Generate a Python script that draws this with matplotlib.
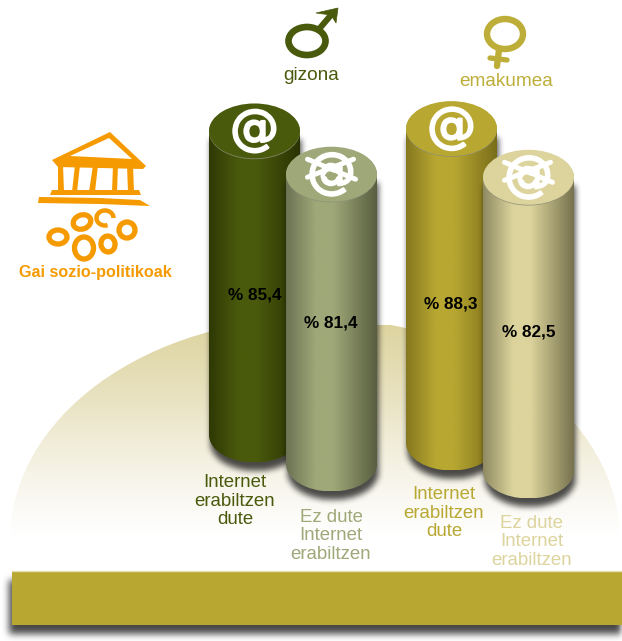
import numpy as np
from matplotlib import pyplot as plt
from matplotlib.colors import LinearSegmentedColormap
from matplotlib.patches import Arc, Ellipse, PathPatch, Polygon, Rectangle
from matplotlib.path import Path
from matplotlib.patheffects import withStroke

plt.rcParams['font.family'] = ['Liberation Sans', 'DejaVu Sans']

# values
percent = [85.4, 81.4, 88.3, 82.5]
percent_labels = ['% 85,4', '% 81,4', '% 88,3', '% 82,5']
use_label = 'Internet\nerabiltzen\ndute'
nouse_label = 'Ez dute\nInternet\nerabiltzen'
bar_labels = [use_label, nouse_label, use_label, nouse_label]
group_names = ['gizona', 'emakumea']
topic = 'Gai sozio-politikoak'

# layout in pixels
W, H = 622, 641
bar_x = [254.5, 331.5, 451.5, 528.5]
bar_base = [435, 464, 443, 471]
px_per_percent = 3.56
rx, ry = 45.5, 27.5
bar_top_colors = ['#4a5a0c', '#9fa878', '#b8a832', '#dcd49c']
bar_edge_colors = ['#2a3303', '#585e40', '#7a6d1a', '#77724e']
bar_left_colors = ['#2f3905', '#6c7254', '#85781f', '#8f8a62']
pct_pos = [(255, 295), (331, 323), (451, 304), (529, 332)]
label_pos = [(235, 500), (331, 535), (444, 512), (532, 541)]
ORANGE = '#f59a00'
OLIVE = '#4a5a0c'
GOLD = '#bdae3a'

fig = plt.figure(figsize=(W / 100, H / 100), dpi=100)
ax = fig.add_axes([0, 0, 1, 1])

gx, gy = np.meshgrid(np.arange(W) + 0.5, np.arange(H) + 0.5)
grid = np.column_stack([gx.ravel(), gy.ravel()])


def gradient(colors, extent, clip, vertical=False, zorder=1):
    cmap = LinearSegmentedColormap.from_list('g', colors)
    ramp = np.linspace(0, 1, 256)
    ramp = ramp.reshape(-1, 1) if vertical else ramp.reshape(1, -1)
    im = ax.imshow(ramp, cmap=cmap, extent=extent, aspect='auto', origin='upper',
                   interpolation='bilinear', zorder=zorder)
    im.set_clip_path(clip)


def blur(a, size):
    kernel = np.ones(size) / size
    for _ in range(3):
        a = np.apply_along_axis(lambda r: np.convolve(r, kernel, mode='same'), 0, a)
        a = np.apply_along_axis(lambda r: np.convolve(r, kernel, mode='same'), 1, a)
    return a


def soft_shadow(path, dx, dy, zorder, size=5, strength=0.6):
    moved = Path(path.vertices + [dx, dy], path.codes)
    mask = moved.contains_points(grid).reshape(H, W).astype(float)
    rgba = np.zeros((H, W, 4))
    rgba[..., 3] = blur(mask, size) * strength
    ax.imshow(rgba, extent=(0, W, H, 0), aspect='auto', origin='upper', zorder=zorder)


def cylinder_path(x, top, base):
    k = 0.5523
    verts = [(x - rx, top), (x - rx, base),
             (x - rx, base + k * ry), (x - k * rx, base + ry), (x, base + ry),
             (x + k * rx, base + ry), (x + rx, base + k * ry), (x + rx, base),
             (x + rx, top), (x - rx, top)]
    codes = [Path.MOVETO, Path.LINETO, Path.CURVE4, Path.CURVE4, Path.CURVE4,
             Path.CURVE4, Path.CURVE4, Path.CURVE4, Path.LINETO, Path.CLOSEPOLY]
    return Path(verts, codes)


# background hill
hill = Ellipse((315, 540), 610, 444, fc='none', ec='none', zorder=1)
ax.add_patch(hill)
gradient(['#ddd4a0', '#e8e2c0', '#f5f2e4', '#ffffff'], (0, W, 535, 325), hill, vertical=True, zorder=1)

# bottom band
band = Path([(12, 571), (12, 625), (640, 625), (640, 571), (12, 571)])
soft_shadow(band, -3, 9, 2, size=7, strength=0.72)
ax.add_patch(Rectangle((12, 571), 610, 54, fc='#b8a832', ec='none', zorder=3))
ax.plot([12, 622], [570.5, 570.5], color='#e6dfb0', lw=1, zorder=3)

# cylinders, height taken from the value
for i, val in enumerate(percent):
    x = bar_x[i]
    base = bar_base[i]
    top = base - val * px_per_percent
    z = 4 + i * 2
    body = cylinder_path(x, top, base)
    soft_shadow(body, 0, 7, z, size=6, strength=0.7)
    patch = PathPatch(body, fc='none', ec='none', zorder=z + 1)
    ax.add_patch(patch)
    mid = bar_top_colors[i]
    gradient([(0, bar_left_colors[i]), (0.33, mid), (0.52, mid), (1, bar_edge_colors[i])],
             (x - rx, x + rx, base + ry, top), patch, zorder=z + 1)
    ax.add_patch(Ellipse((x, top + 0.7), 2 * rx, 2 * ry, fc='#8f8f78', ec='none', zorder=z + 1))
    ax.add_patch(Ellipse((x, top), 2 * rx, 2 * ry, fc=mid, ec='none', zorder=z + 1))
    # @ sign on the lid
    ty = top - 1
    ax.text(x, ty, '@', color='white', fontsize=35, family='DejaVu Sans', ha='center', va='center',
            zorder=z + 1, path_effects=[withStroke(linewidth=1.6, foreground='white')])
    if i % 2 == 1:
        # crossed out version
        ax.plot([x - 24, x + 24], [ty - 14, ty + 6], color='white', lw=3.6,
                solid_capstyle='round', zorder=z + 1)
        ax.plot([x - 24, x + 22], [ty + 4, ty - 14], color='white', lw=3.6,
                solid_capstyle='round', zorder=z + 1)
        ax.add_patch(Ellipse((x, ty + 2), 13, 5, fc=mid, ec='none', zorder=z + 1))
    ax.text(pct_pos[i][0], pct_pos[i][1], percent_labels[i], fontsize=12.3, fontweight='bold',
            color='black', ha='center', va='center', zorder=20)
    ax.text(label_pos[i][0], label_pos[i][1] + 1, bar_labels[i], fontsize=13.4, color=mid,
            ha='center', va='center', linespacing=1.1, zorder=20)

# male sign
ax.add_patch(Ellipse((307, 41), 37, 28, angle=0, fc='none', ec=OLIVE, lw=4.8, zorder=5))
ax.plot([320, 331], [28, 15], color=OLIVE, lw=4.4, zorder=5)
ax.add_patch(Polygon([(316, 13), (338, 8), (336, 23), (331, 15)], fc=OLIVE, ec=OLIVE, lw=0.5, zorder=5))
ax.text(311, 75, group_names[0], fontsize=13.7, color=OLIVE, ha='center', va='center', zorder=20)

# female sign
ax.add_patch(Ellipse((505, 34), 36, 30, fc='none', ec=GOLD, lw=4.6, zorder=5))
ax.plot([499, 497], [50, 66], color=GOLD, lw=4.6, solid_capstyle='round', zorder=5)
ax.plot([490, 507], [58, 60], color=GOLD, lw=3.8, solid_capstyle='round', zorder=5)
ax.text(506, 82, group_names[1], fontsize=13.7, color=GOLD, ha='center', va='center', zorder=20)

# temple logo
ax.add_patch(Polygon([(110, 132), (146, 166), (143, 169), (58, 167), (52, 160)],
                     fc=ORANGE, ec='none', zorder=5))
ax.add_patch(Polygon([(70, 156), (109, 138), (132, 159)], fc='white', ec='none', zorder=5))
columns = [(58, 63, 58, 64), (75, 80, 72, 77), (93, 98, 89, 95), (113, 118, 112, 117), (127, 133, 128, 134)]
for xa, xb, xc, xd in columns:
    ax.add_patch(Polygon([(xa, 165), (xb, 165), (xd, 192), (xc, 192)], fc=ORANGE, ec='none', zorder=5))
ax.add_patch(Polygon([(52, 190), (139, 190), (141, 195), (50, 195)], fc=ORANGE, ec='none', zorder=5))
ax.add_patch(Polygon([(39, 197), (100, 198), (140, 200), (150, 206), (100, 204), (38, 203)],
                     fc=ORANGE, ec='none', zorder=5))
rings = [(58, 237, 18, 14, 0), (82, 222, 18, 14, -20), (127, 230, 16, 16, 0),
         (84, 248, 19, 22, 0), (108, 244, 14, 16, -10)]
for cx, cy, w, h, ang in rings:
    ax.add_patch(Ellipse((cx, cy), w, h, angle=ang, fc='none', ec=ORANGE, lw=3.8, zorder=5))
ax.add_patch(Arc((105, 218), 17, 15, angle=0, theta1=70, theta2=360, ec=ORANGE, lw=3.2, zorder=5))
ax.text(95, 273, topic, fontsize=11.6, fontweight='bold', color=ORANGE, ha='center', va='center',
        zorder=20)

ax.set_xlim(0, W)
ax.set_ylim(H, 0)
ax.axis('off')
fig.savefig('out.png', dpi=100)
